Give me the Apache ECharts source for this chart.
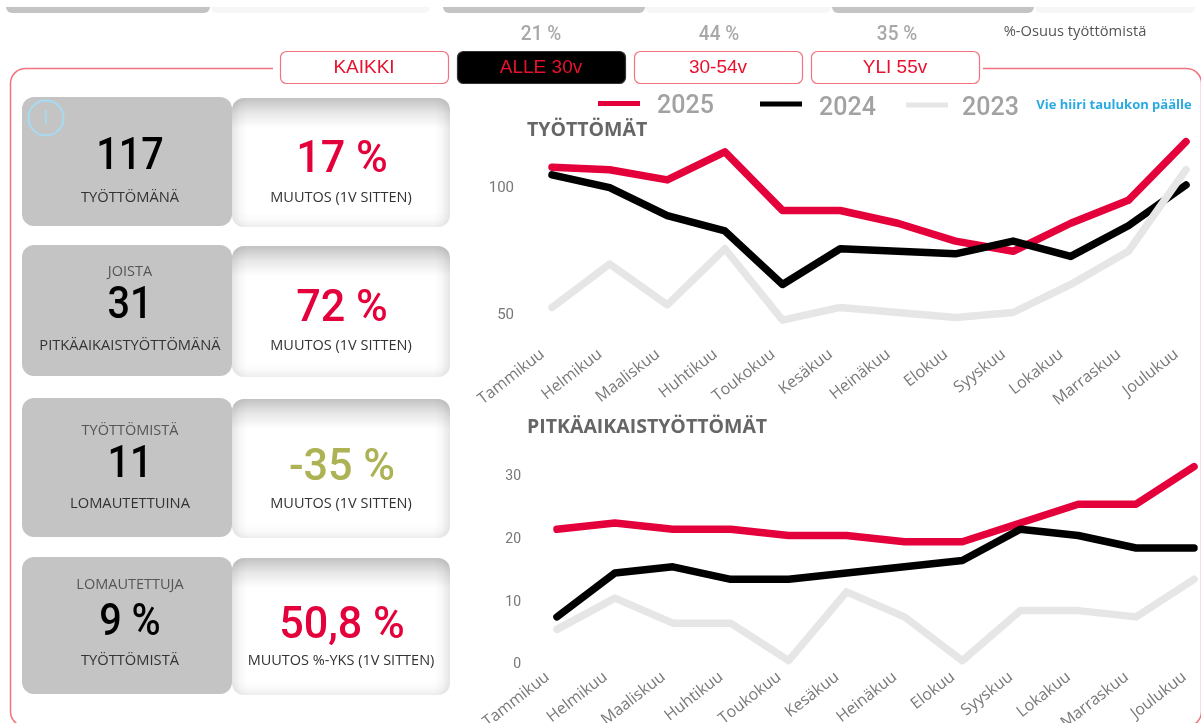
<!DOCTYPE html>
<html>
<head>
<meta charset="utf-8">
<style>html,body{margin:0;padding:0;background:#fff}#main{width:1201px;height:723px}</style>
<script src="https://cdn.jsdelivr.net/npm/echarts@6/dist/echarts.min.js"></script>
</head>
<body>
<div id="main"></div>
<script>
var months = ['Tammikuu','Helmikuu','Maaliskuu','Huhtikuu','Toukokuu','Kesäkuu','Heinäkuu','Elokuu','Syyskuu','Lokakuu','Marraskuu','Joulukuu'];
// tyottomat
var tyo2025 = [107,106,102,113,90,90,85,78,74,85,94,117];
var tyo2024 = [104,99,88,82,61,75,74,73,78,72,84,100];
var tyo2023 = [52,69,53,75,47,52,50,48,50,61,74,106];
// pitkaaikaistyottomat
var pit2025 = [21,22,21,21,20,20,19,19,22,25,25,31];
var pit2024 = [7,14,15,13,13,14,15,16,21,20,18,18];
var pit2023 = [5,10,6,6,0,11,7,0,8,8,7,13];
// kortit
var kpiTop = ['', 'JOISTA', 'TYÖTTÖMISTÄ', 'LOMAUTETTUJA'];
var kpiValue = ['117', '31', '11', '9 %'];
var kpiBottom = ['TYÖTTÖMÄNÄ', 'PITKÄAIKAISTYÖTTÖMÄNÄ', 'LOMAUTETTUINA', 'TYÖTTÖMISTÄ'];
var kpiChange = ['17 %', '72 %', '-35 %', '50,8 %'];
var kpiChangeLabel = ['MUUTOS (1V SITTEN)', 'MUUTOS (1V SITTEN)', 'MUUTOS (1V SITTEN)', 'MUUTOS %-YKS (1V SITTEN)'];
var ageButtons = ['KAIKKI', 'ALLE 30v', '30-54v', 'YLI 55v'];
var ageShares = ['21 %', '44 %', '35 %'];

var RED = '#e4003a', GRAY = '#e6e6e6', FRAME = '#f2737f';
var SANS = '"Open Sans"';

var g = [];

function txt(s, x, y, font, fill, sx) {
    g.push({type: 'text', silent: true, z: 10, x: x, y: y, scaleX: sx || 1,
        style: {text: s, x: 0, y: 0, font: font, fill: fill, align: 'center', verticalAlign: 'middle'}});
}

function grad(x, y, w, h, r, x1, y1, x2, y2, from, mid) {
    g.push({type: 'rect', silent: true, shape: {x: x, y: y, width: w, height: h, r: r},
        style: {fill: {type: 'linear', x: x1, y: y1, x2: x2, y2: y2, colorStops: [
            {offset: 0, color: 'rgba(0,0,0,' + from + ')'}, {offset: 0.5, color: 'rgba(0,0,0,' + mid + ')'}, {offset: 1, color: 'rgba(0,0,0,0)'}]}}});
}

// valkoinen kortti jossa sisavarjo
function softCard(x, y, w, h) {
    g.push({type: 'rect', silent: true, shape: {x: x, y: y, width: w, height: h, r: 12}, style: {fill: '#fff'}});
    grad(x, y, w, 30, [12,12,0,0], 0, 0, 0, 1, 0.24, 0.09);
    grad(x, y, 16, h, [12,0,0,12], 0, 0, 1, 0, 0.1, 0.03);
    grad(x + w - 16, y, 16, h, [0,12,12,0], 1, 0, 0, 0, 0.1, 0.03);
    grad(x, y + h - 14, w, 14, [0,0,12,12], 0, 1, 0, 0, 0.07, 0.02);
}

// ylareunan leikkautuneet kortit
[[6,204],[443,202],[832,202]].forEach(function (c) {
    g.push({type: 'rect', silent: true, shape: {x: c[0], y: 7, width: c[1], height: 6, r: [0,0,10,10]}, style: {fill: '#c4c4c4'}});
});
[[211,219],[645,186],[1035,160]].forEach(function (c) {
    g.push({type: 'rect', silent: true, shape: {x: c[0], y: 7, width: c[1], height: 6, r: [0,0,10,10]}, style: {fill: '#f6f6f6'}});
});

ageShares.forEach(function (s, i) {
    txt(s, [541,719,897][i], 35, '500 20px Roboto', '#a8a8a8', 0.95);
});
txt('%-Osuus työttömistä', 1075, 32, '14px ' + SANS, '#555555', 1.05);

// kehys, yla-aukko peitetaan valkoisella
g.push({type: 'rect', silent: true, shape: {x: 10.5, y: 68.5, width: 1191, height: 658, r: 15},
    style: {fill: 'none', stroke: FRAME, lineWidth: 1.5}});
g.push({type: 'rect', silent: true, shape: {x: 273, y: 60, width: 710, height: 16}, style: {fill: '#fff'}});

// napit
[280,457,634,811].forEach(function (x, i) {
    var on = i === 1;
    g.push({type: 'rect', silent: true, shape: {x: x + 0.5, y: 51.5, width: 168, height: 32, r: 6},
        style: {fill: on ? '#000' : '#fff', stroke: on ? '#333' : FRAME, lineWidth: 1.2}});
    txt(ageButtons[i], x + 84, 67.5, '19px "Liberation Sans"', '#e8112d');
});

// kortit
var cardY = [[97,129],[245,131],[398,139],[557,137]];
var centerY = [[0,155,198],[272,304,346],[431,463,504],[585,621,661]];
cardY.forEach(function (c, i) {
    softCard(232, c[0] + 1, 218, c[1]);
    g.push({type: 'rect', silent: true, shape: {x: 22, y: c[0], width: 210, height: c[1], r: 12}, style: {fill: '#c4c4c4'}});
    if (kpiTop[i]) txt(kpiTop[i], 130, centerY[i][0], '14.5px ' + SANS, '#555555');
    txt(kpiValue[i], 130, centerY[i][1] + 3, '500 44px Roboto', '#000000', 0.9);
    txt(kpiBottom[i], 130, centerY[i][2], '14.7px ' + SANS, '#333333');
    txt(kpiChange[i], 342, centerY[i][1] + 6, '500 44px Roboto', i === 2 ? '#adb254' : RED, 0.98);
    txt(kpiChangeLabel[i], 341, centerY[i][2], '14.5px ' + SANS, '#333333');
});

// info
g.push({type: 'circle', silent: true, z: 10, shape: {cx: 46, cy: 118, r: 17.5}, style: {fill: 'none', stroke: '#a5dcf5', lineWidth: 2}});
txt('i', 46, 118, '20px ' + SANS, '#a5dcf5');
txt('Vie hiiri taulukon päälle', 1114, 105, 'bold 13px ' + SANS, '#29abe2');

// ikonin alla tyhja piste: teksti jaa palkkia alemmas
function legendItem(name, left, top, gap, drop) {
    var h = 5 + 2 * drop;
    return {data: [name], left: left, top: top, padding: 0, itemWidth: 42, itemHeight: h,
        icon: 'path://M0 0H42V5H0Z M0 ' + h + 'L0 ' + h + 'Z',
        selectedMode: false,
        textStyle: {fontFamily: 'Roboto', fontWeight: 500, fontSize: 25, color: '#a2a2a2', padding: [0,0,0,gap]}};
}

function lineSeries(name, data, color, idx) {
    return {name: name, type: 'line', data: data, xAxisIndex: idx, yAxisIndex: idx, symbol: 'none', clip: false,
        lineStyle: {color: color, width: 7.5, cap: 'round', join: 'round'}, itemStyle: {color: color}};
}

function xAxis(idx) {
    return {type: 'category', gridIndex: idx, data: months, boundaryGap: false,
        axisLine: {show: false}, axisTick: {show: false}, splitLine: {show: false},
        axisLabel: {rotate: 38, interval: 0, margin: 7, padding: [0,12,0,0], color: '#7a7a7a', fontFamily: 'Open Sans', fontSize: 16}};
}

var option = {
    animation: false,
    backgroundColor: '#fff',
    title: [
        {text: 'TYÖTTÖMÄT', left: 527, top: 120, padding: 0, textStyle: {fontFamily: 'Open Sans', fontWeight: 'bold', fontSize: 19.5, color: '#666666'}},
        {text: 'PITKÄAIKAISTYÖTTÖMÄT', left: 527, top: 417, padding: 0, textStyle: {fontFamily: 'Open Sans', fontWeight: 'bold', fontSize: 19.5, color: '#666666'}}
    ],
    legend: [legendItem('2025', 598, 94, 12, 3), legendItem('2024', 760, 96, 12, 4.5), legendItem('2023', 906, 96, 9, 3.5)],
    grid: [
        {left: 552, width: 634, top: 134, height: 204, outerBoundsMode: 'none'},
        {left: 557, width: 637, top: 410.3, height: 250.4, outerBoundsMode: 'none'}
    ],
    xAxis: [xAxis(0), xAxis(1)],
    yAxis: [
        {type: 'value', gridIndex: 0, min: 40, max: 120, axisLine: {show: false}, axisTick: {show: false}, splitLine: {show: false},
            axisLabel: {customValues: [50, 100], margin: 38, verticalAlign: 'top', lineHeight: 6, color: '#777777', fontFamily: 'Roboto', fontSize: 15}},
        {type: 'value', gridIndex: 1, min: 0, max: 40, interval: 10, axisLine: {show: false}, axisTick: {show: false}, splitLine: {show: false},
            axisLabel: {margin: 36, verticalAlign: 'top', lineHeight: 8, color: '#777777', fontFamily: 'Roboto', fontSize: 14,
                formatter: function (v) { return v > 30 ? '' : v; }}}
    ],
    series: [
        lineSeries('2025', tyo2025, RED, 0),
        lineSeries('2024', tyo2024, '#000000', 0),
        lineSeries('2023', tyo2023, GRAY, 0),
        lineSeries('2025', pit2025, RED, 1),
        lineSeries('2024', pit2024, '#000000', 1),
        lineSeries('2023', pit2023, GRAY, 1)
    ],
    graphic: g
};

var chart = echarts.init(document.getElementById('main'), null, {renderer: 'canvas'});
chart.setOption(option);
</script>
</body>
</html>
